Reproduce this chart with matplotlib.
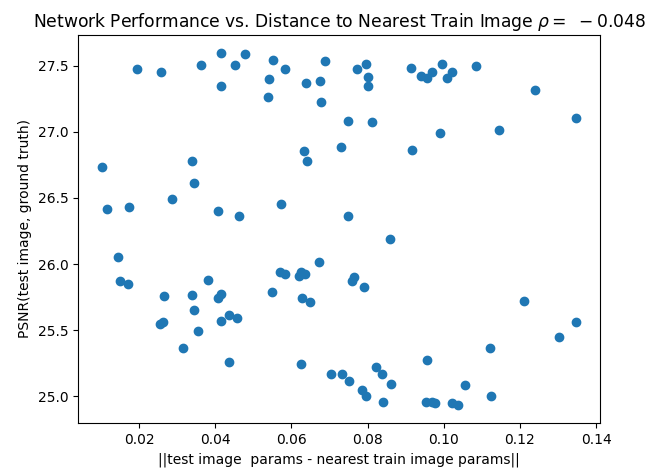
import matplotlib
matplotlib.use("Agg")
import matplotlib.pyplot as plt
import numpy as np

distance = [
    0.0194, 0.0258, 0.0362, 0.0415, 0.0479, 0.0451, 0.0415, 0.0102, 0.0339, 0.0345,
    0.0286, 0.0117, 0.0174, 0.0407, 0.0462,
    0.0553, 0.0584, 0.0540, 0.0538, 0.0689, 0.0639, 0.0675, 0.0677, 0.0772, 0.0795,
    0.0800, 0.0800, 0.0749, 0.0811, 0.0731, 0.0632, 0.0642, 0.0916, 0.0913, 0.0939,
    0.0955, 0.0574, 0.0749,
    0.0970, 0.0996, 0.1021, 0.1008, 0.1084, 0.1239, 0.1348, 0.0989, 0.1146,
    0.0144, 0.0149, 0.0172, 0.0266, 0.0254, 0.0264, 0.0338, 0.0343, 0.0354, 0.0315,
    0.0382, 0.0406, 0.0416, 0.0435, 0.0415, 0.0457, 0.0435,
    0.0858, 0.0672, 0.0569, 0.0582, 0.0619, 0.0624, 0.0635, 0.0548, 0.0628, 0.0650,
    0.0758, 0.0764, 0.0791, 0.0624, 0.0705, 0.0732, 0.0752, 0.0786, 0.0797, 0.0821,
    0.0839, 0.0861, 0.0841, 0.0955, 0.0953,
    0.0968, 0.0977, 0.1021, 0.1037, 0.1057, 0.1124, 0.1121, 0.1211, 0.1303, 0.1348,
]
psnr = [
    27.475, 27.450, 27.505, 27.600, 27.586, 27.505, 27.347, 26.735, 26.778, 26.616,
    26.490, 26.420, 26.430, 26.400, 26.360,
    27.548, 27.475, 27.397, 27.261, 27.538, 27.372, 27.387, 27.228, 27.475, 27.515,
    27.412, 27.347, 27.085, 27.077, 26.886, 26.853, 26.780, 26.863, 27.485, 27.420,
    27.405, 26.455, 26.360,
    27.450, 27.515, 27.450, 27.405, 27.498, 27.316, 27.103, 26.990, 27.014,
    26.053, 25.872, 25.851, 25.760, 25.547, 25.562, 25.766, 25.655, 25.496, 25.368,
    25.876, 25.743, 25.776, 25.617, 25.566, 25.592, 25.260,
    26.189, 26.012, 25.942, 25.924, 25.906, 25.937, 25.924, 25.791, 25.745, 25.713,
    25.874, 25.904, 25.823, 25.245, 25.169, 25.164, 25.116, 25.045, 25.003, 25.219,
    25.169, 25.088, 24.955, 25.275, 24.955,
    24.955, 24.945, 24.947, 24.930, 25.083, 25.003, 25.368, 25.718, 25.449, 25.562,
]
rho = -0.048

fig = plt.figure(figsize=(6.62, 4.69), dpi=100)
ax = fig.add_axes([78/662, 46/469, 522/662, 388/469])
ax.scatter(distance, psnr)
ax.set_title("Network Performance vs. Distance to Nearest Train Image $\\rho =\\ %.3f$" % rho,
             fontsize=12.3)
ax.set_xlabel("||test image  params - nearest train image params||")
ax.set_ylabel("PSNR(test image, ground truth)")
fig.savefig("out.png", dpi=100)
